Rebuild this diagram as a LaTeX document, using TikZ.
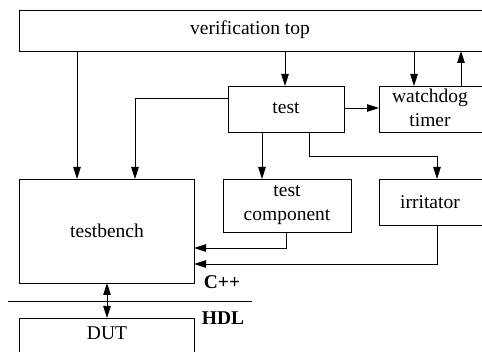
\documentclass[tikz,border=0pt]{standalone}
\usepackage{fontspec}
\setmainfont{Liberation Serif}
\usetikzlibrary{arrows.meta}
\begin{document}
\begin{tikzpicture}[x=1pt,y=-1pt,
  blk/.style={draw,line width=0.9pt},
  lbl/.style={align=center,font=\fontsize{19.5}{24}\selectfont,inner sep=0pt},
  bold/.style={font=\fontsize{19.5}{24}\selectfont\bfseries,inner sep=0pt},
  conn/.style={line width=0.9pt,-{Triangle[length=12pt,width=7.5pt]}},
  dconn/.style={line width=0.9pt,{Triangle[length=12pt,width=7.5pt]}-{Triangle[length=12pt,width=7.5pt]}}]
\useasboundingbox (0,0) rectangle (482,352);
% boxes
\draw[blk] (19,10) rectangle (486,51);
\node[lbl] (vt) at (250,30) {verification top};
\draw[blk] (228,86) rectangle (344,132);
\node[lbl] (test) at (286,108) {test};
\draw[blk] (379,86) rectangle (486,132);
\node[lbl] (wd) at (430,108) {watchdog\\timer};
\draw[blk] (19,179) rectangle (194,283);
\node[lbl] (tb) at (107,231) {testbench};
\draw[blk] (223,179) rectangle (351,232);
\node[lbl] (tc) at (287,205) {test\\component};
\draw[blk] (379,179) rectangle (486,225);
\node[lbl] (irr) at (430,202) {irritator};
\draw[blk] (19,318) rectangle (194,360);
\node[lbl] (dut) at (107,333) {DUT};
% labels and separator
\node[bold] (cpp) at (222,282) {C++};
\node[bold] (hdl) at (223,318) {HDL};
\draw[line width=0.9pt] (8,301.5) -- (252,301.5);
% connectors
\coordinate (a1) at (77,51);
\coordinate (a1e) at (77,179);
\draw[conn] (a1) -- (a1e);
\coordinate (b1) at (228,98);
\coordinate (b2) at (135,98);
\coordinate (b3) at (135,179);
\draw[conn] (b1) -- (b2) -- (b3);
\draw[conn] (285,51) -- (285,86);
\draw[conn] (414,51) -- (414,86);
\draw[conn] (461,86) -- (461,51);
\draw[conn] (344,108) -- (379,108);
\draw[conn] (262,132) -- (262,179);
\draw[conn] (309,132) -- (309,156) -- (437,156) -- (437,179);
\draw[conn] (286,232) -- (286,248) -- (194,248);
\draw[conn] (437,225) -- (437,264) -- (194,264);
\draw[dconn] (107,283) -- (107,318);
\end{tikzpicture}
\end{document}
